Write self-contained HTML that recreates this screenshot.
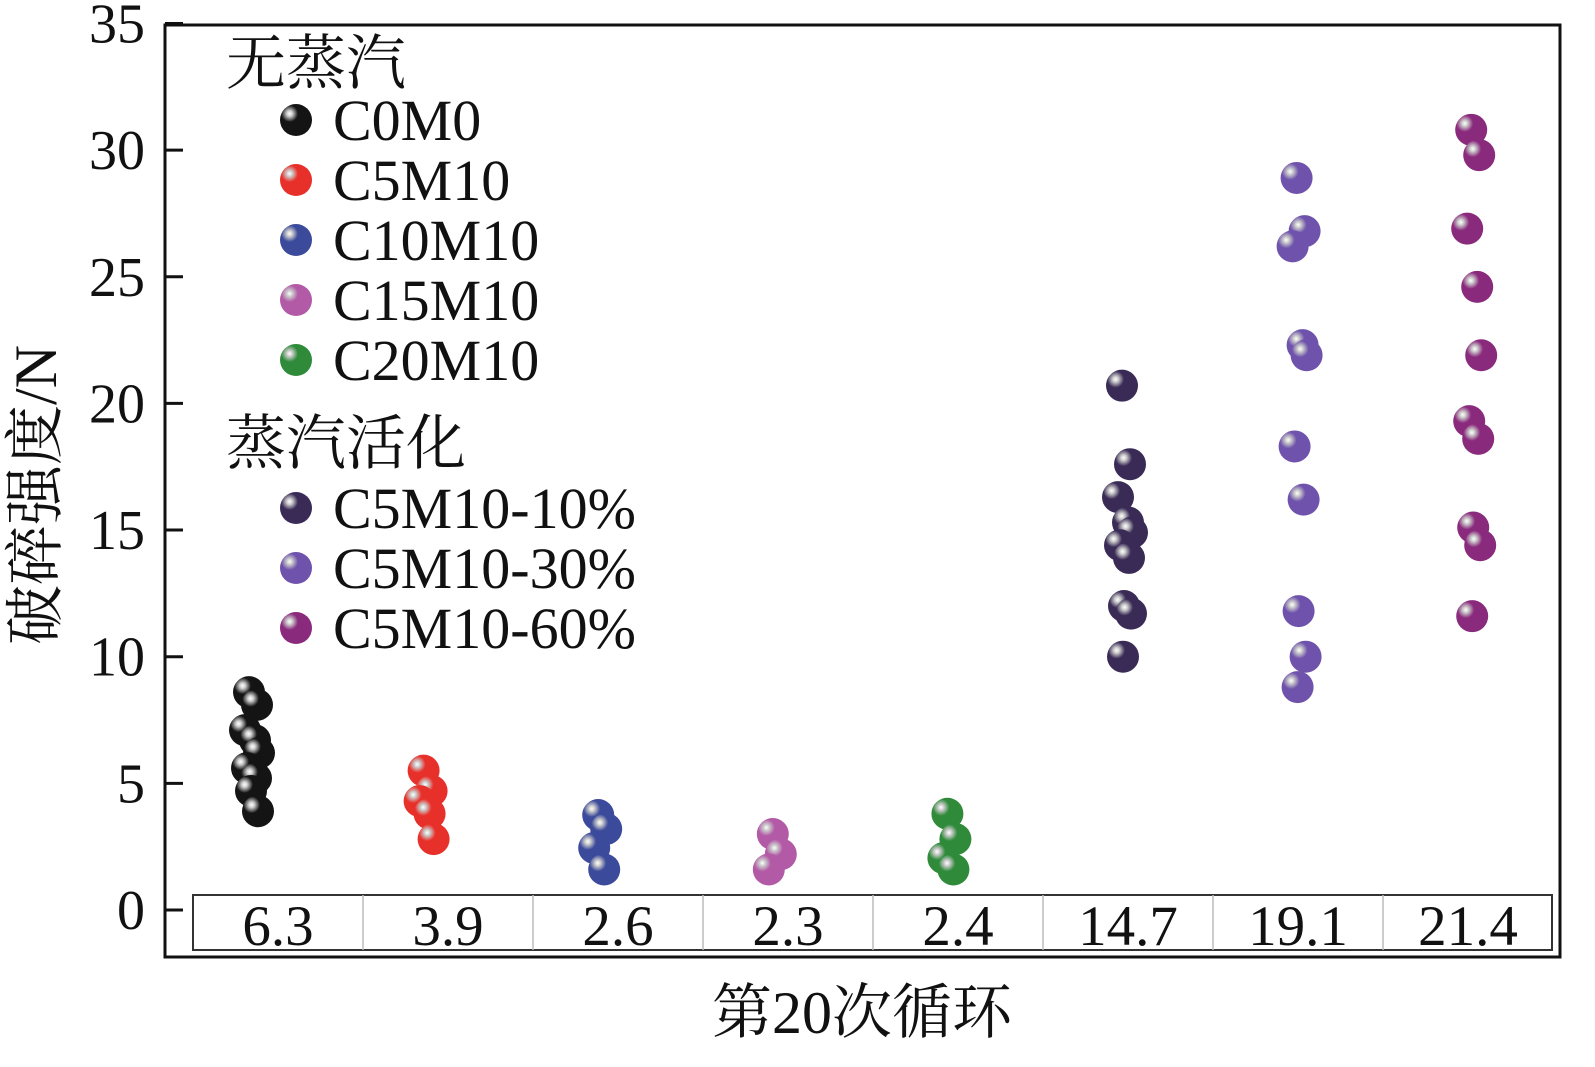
<!DOCTYPE html>
<html><head><meta charset="utf-8"><style>
body{margin:0;background:#fff}
svg text{font-family:"Liberation Serif","Noto Serif CJK SC",serif;fill:#111}
</style></head><body>
<svg width="1595" height="1062" viewBox="0 0 1595 1062">
<defs id="defs"></defs>
<g id="axes"></g><g id="marks"></g><g id="legend"></g>
</svg>
<script>
const groups=["C0M0","C5M10","C10M10","C15M10","C20M10","C5M10-10%","C5M10-30%","C5M10-60%"];
const colors=["#141414","#e8302a","#3b4a9a","#b35aa6","#2f8a3a","#3a2b56","#6e52ab","#8a2a7c"];
const means=["6.3","3.9","2.6","2.3","2.4","14.7","19.1","21.4"];
const vals0=[8.6,8.1,7.1,6.7,6.2,5.6,5.2,4.7,3.9];
const vals1=[5.5,4.7,4.3,3.8,2.8];
const vals2=[3.75,3.2,2.45,1.6];
const vals3=[3.0,2.2,1.6];
const vals4=[3.8,2.8,2.05,1.6];
const vals5=[20.7,17.6,16.3,15.3,14.9,14.4,13.9,12.0,11.7,10.0];
const vals6=[28.9,26.8,26.2,22.3,21.9,18.3,16.2,11.8,10.0,8.8];
const vals7=[30.8,29.8,26.9,24.6,21.9,19.3,18.6,15.1,14.4,11.6];
const allVals=[vals0,vals1,vals2,vals3,vals4,vals5,vals6,vals7];
const yTicks=[0,5,10,15,20,25,30,35];
const NS="http://www.w3.org/2000/svg";
const y=v=>910-v*25.33;
const colX=i=>278+i*170;
const dotX=i=>253+i*174.6;
function mk(t,a,p){const e=document.createElementNS(NS,t);for(const k in a)e.setAttribute(k,a[k]);p.appendChild(e);return e;}
const defs=document.getElementById('defs'),axes=document.getElementById('axes'),marks=document.getElementById('marks'),leg=document.getElementById('legend');
colors.forEach((c,i)=>{const g=mk('radialGradient',{id:'g'+i,cx:'0.3',cy:'0.3',r:'0.75'},defs);
mk('stop',{offset:'0',"stop-color":'#fff'},g);mk('stop',{offset:'0.12',"stop-color":'#ccc'},g);mk('stop',{offset:'0.35',"stop-color":c},g);mk('stop',{offset:'1',"stop-color":c},g);});
const fr=mk('rect',{x:165,y:25,width:1395,height:932,fill:'none',stroke:'#111','stroke-width':3},axes);

yTicks.forEach(v=>{const l=mk('line',{x1:165,x2:183,y1:y(v),y2:y(v),stroke:'#111','stroke-width':3},axes);

const t=mk('text',{x:145,y:y(v)+19,'text-anchor':'end','font-size':56},axes);t.textContent=v;
});
const tb=mk('rect',{x:193,y:895,width:1359,height:55,fill:'#fff',stroke:'#333','stroke-width':2},axes);

means.forEach((m,i)=>{if(i>0){const l=mk('line',{x1:193+i*170,x2:193+i*170,y1:895,y2:950,stroke:'#bbb','stroke-width':1.5},axes);
}
const t=mk('text',{x:colX(i),y:945,'text-anchor':'middle','font-size':57},axes);t.textContent=m;
});
const yt=mk('text',{x:0,y:0,'text-anchor':'middle','font-size':60,transform:'translate(56,495) rotate(-90)'},axes);yt.textContent='破碎强度/N';

const xt=mk('text',{x:862,y:1033,'text-anchor':'middle','font-size':60},axes);xt.textContent='第20次循环';

const jit=[-4,4,-8,2,6,-6,3,-2,5,-3];
allVals.forEach((arr,i)=>{arr.forEach((v,j)=>{const c=mk('circle',{cx:dotX(i)+jit[j%jit.length],cy:y(v),r:16,fill:'url(#g'+i+')'},marks);
});});
function head(txt,yy){const t=mk('text',{x:226,y:yy,'font-size':60},leg);t.textContent=txt;
}
head('无蒸汽',84);head('蒸汽活化',464);
const ly=[120,180,240,300,360,508,568,628];
groups.forEach((g,i)=>{const c=mk('circle',{cx:296,cy:ly[i],r:16,fill:'url(#g'+i+')'},leg);

const t=mk('text',{x:333,y:ly[i]+20,'font-size':58},leg);t.textContent=g;
});
</script>
</body></html>
